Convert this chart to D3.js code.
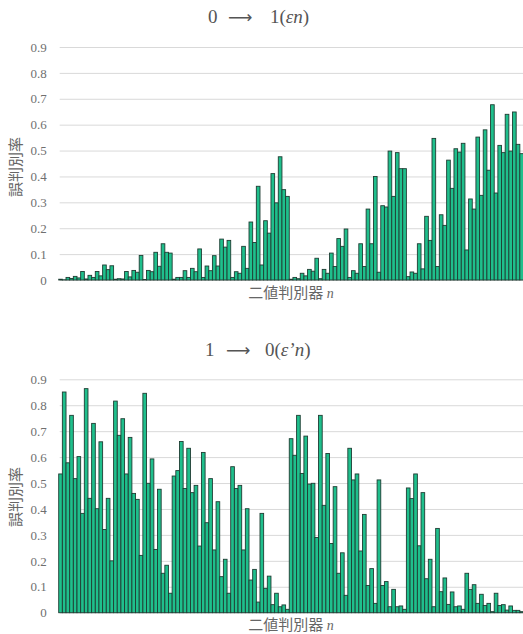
<!DOCTYPE html>
<html>
<head>
<meta charset="utf-8">
<script src="https://cdn.jsdelivr.net/npm/d3@7"></script>
<style>
  html, body { margin: 0; padding: 0; background: #ffffff; }
  svg { display: block; }
</style>
</head>
<body>
<svg id="chart" width="523" height="634"></svg>
<script>
// ---- data ----
const discriminators = d3.range(1, 128); // 二値判別器 n = 1..127

// 0 -> 1 (εn)
const errorRate01 = [
  0.003, 0.001, 0.010, 0.006, 0.014, 0.008, 0.033, 0.004, 0.018, 0.010,
  0.033, 0.016, 0.058, 0.040, 0.055, 0.003, 0.005, 0.004, 0.033, 0.012,
  0.037, 0.030, 0.095, 0.002, 0.037, 0.032, 0.107, 0.053, 0.140, 0.107,
  0.104, 0.003, 0.010, 0.010, 0.036, 0.010, 0.045, 0.032, 0.120, 0.010,
  0.054, 0.036, 0.094, 0.054, 0.158, 0.127, 0.153, 0.010, 0.032, 0.026,
  0.130, 0.045, 0.224, 0.145, 0.362, 0.058, 0.229, 0.181, 0.411, 0.298,
  0.476, 0.349, 0.323, 0.003, 0.010, 0.005, 0.026, 0.016, 0.041, 0.034,
  0.084, 0.005, 0.041, 0.026, 0.104, 0.052, 0.160, 0.130, 0.197, 0.010,
  0.036, 0.026, 0.140, 0.052, 0.274, 0.140, 0.400, 0.030, 0.287, 0.282,
  0.498, 0.323, 0.492, 0.430, 0.430, 0.013, 0.031, 0.026, 0.140, 0.043,
  0.246, 0.153, 0.547, 0.052, 0.252, 0.211, 0.463, 0.354, 0.507, 0.494,
  0.528, 0.116, 0.313, 0.274, 0.552, 0.327, 0.580, 0.424, 0.677, 0.336,
  0.520, 0.492, 0.640, 0.498, 0.649, 0.524, 0.488
];

// 1 -> 0 (ε'n)
const errorRate10 = [
  0.535, 0.851, 0.578, 0.761, 0.517, 0.602, 0.383, 0.864, 0.441, 0.730,
  0.401, 0.659, 0.321, 0.441, 0.200, 0.816, 0.684, 0.748, 0.535, 0.676,
  0.460, 0.437, 0.221, 0.846, 0.499, 0.593, 0.244, 0.476, 0.152, 0.183,
  0.075, 0.527, 0.548, 0.660, 0.479, 0.634, 0.463, 0.491, 0.257, 0.618,
  0.347, 0.517, 0.242, 0.428, 0.139, 0.206, 0.075, 0.563, 0.479, 0.491,
  0.242, 0.401, 0.126, 0.167, 0.041, 0.383, 0.094, 0.141, 0.031, 0.075,
  0.023, 0.030, 0.013, 0.671, 0.607, 0.761, 0.537, 0.681, 0.496, 0.499,
  0.290, 0.761, 0.414, 0.614, 0.267, 0.486, 0.152, 0.231, 0.067, 0.634,
  0.512, 0.535, 0.238, 0.379, 0.105, 0.170, 0.036, 0.512, 0.105, 0.120,
  0.023, 0.090, 0.023, 0.026, 0.013, 0.481, 0.440, 0.535, 0.258, 0.463,
  0.131, 0.206, 0.023, 0.325, 0.081, 0.134, 0.032, 0.080, 0.023, 0.026,
  0.013, 0.152, 0.090, 0.108, 0.036, 0.071, 0.028, 0.036, 0.004, 0.075,
  0.028, 0.031, 0.010, 0.026, 0.009, 0.009, 0.004
];

const yTicks = [0, 0.1, 0.2, 0.3, 0.4, 0.5, 0.6, 0.7, 0.8, 0.9];
const yTickLabels = ["0", "0.1", "0.2", "0.3", "0.4", "0.5", "0.6", "0.7", "0.8", "0.9"];
const yAxisTitle = "誤判別率";
const xAxisTitle = "二値判別器";

// ---- drawing ----
const svg = d3.select("#chart");
const plotLeft = 58.7, plotRight = 523.5;
const serif = "'Liberation Serif', 'DejaVu Serif', serif";

const x = d3.scaleBand()
  .domain(discriminators)
  .range([plotLeft, plotRight])
  .paddingInner(0).paddingOuter(0);

function panel(opts) {
  const { values, y0, y9, titleY, titleParts, xTitleY, yTitleY } = opts;
  const y = d3.scaleLinear().domain([0, 0.9]).range([y0, y9]);
  const g = svg.append("g");

  // gridlines + tick labels
  const axis = d3.axisLeft(y)
    .tickValues(yTicks)
    .tickFormat((d, i) => yTickLabels[i])
    .tickSize(-(plotRight - plotLeft + 2))
    .tickPadding(13);
  const ax = g.append("g")
    .attr("transform", `translate(${plotLeft + 1},0)`)
    .call(axis);
  ax.select(".domain").remove();
  ax.selectAll(".tick line").attr("stroke", "#d9d9d9").attr("stroke-width", 1);
  ax.selectAll(".tick text")
    .attr("fill", "#6f6f6f")
    .style("font-family", serif)
    .style("font-size", "13px");

  // bars
  g.append("g").selectAll("rect")
    .data(values)
    .join("rect")
    .attr("x", (d, i) => x(discriminators[i]))
    .attr("width", x.bandwidth())
    .attr("y", d => y(d))
    .attr("height", d => y(0) - y(d))
    .attr("fill", "#1fbf8c")
    .attr("stroke", "#1f3d33")
    .attr("stroke-width", 0.9);

  // title
  const t = g.append("text")
    .attr("y", titleY)
    .attr("fill", "#555555")
    .style("font-family", serif)
    .style("font-size", "19px");
  titleParts.forEach(p => {
    const s = t.append("tspan").text(p.text);
    if (p.x !== undefined) s.attr("x", p.x);
    if (p.italic) s.style("font-style", "italic");
    if (p.font) s.style("font-family", p.font);
    if (p.size) s.style("font-size", p.size);
  });

  // y axis title
  g.append("text")
    .attr("transform", `translate(21,${yTitleY}) rotate(-90)`)
    .attr("text-anchor", "middle")
    .attr("fill", "#666666")
    .style("font-family", "'Noto Sans CJK JP', sans-serif")
    .style("font-size", "15px")
    .text(yAxisTitle);

  // x axis title
  const xt = g.append("text")
    .attr("x", 291).attr("y", xTitleY)
    .attr("text-anchor", "middle")
    .attr("fill", "#666666")
    .style("font-family", "'Noto Sans CJK JP', sans-serif")
    .style("font-size", "15px");
  xt.append("tspan").text(xAxisTitle + " ");
  xt.append("tspan").text("n")
    .style("font-family", serif)
    .style("font-style", "italic")
    .style("font-size", "14px");
}

const arrowFont = "'DejaVu Sans', sans-serif";

panel({
  values: errorRate01,
  y0: 280, y9: 47,
  titleY: 23,
  titleParts: [
    { text: "0", x: 208 },
    { text: "\u27F6", x: 228, font: arrowFont, size: "17px" },
    { text: "1(", x: 270 },
    { text: "\u03b5n", italic: true },
    { text: ")" }
  ],
  xTitleY: 298,
  yTitleY: 167
});

panel({
  values: errorRate10,
  y0: 612.7, y9: 379.3,
  titleY: 356,
  titleParts: [
    { text: "1", x: 205 },
    { text: "\u27F6", x: 226, font: arrowFont, size: "17px" },
    { text: "0(", x: 265 },
    { text: "\u03b5\u2019n", italic: true },
    { text: ")" }
  ],
  xTitleY: 630,
  yTitleY: 497
});
</script>
</body>
</html>
